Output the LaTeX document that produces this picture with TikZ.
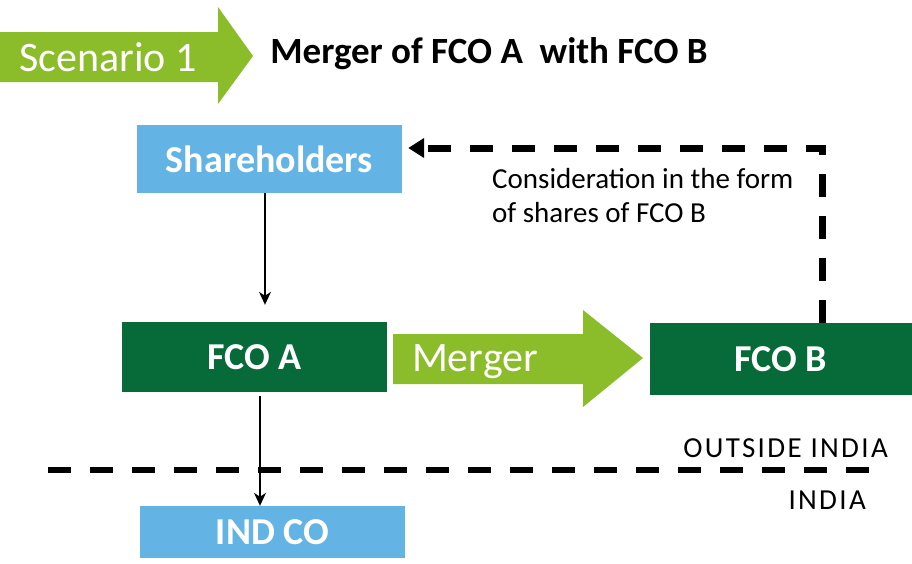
\documentclass[tikz,border=0pt]{standalone}
\usepackage{fontspec}
\setmainfont{Carlito}
\usetikzlibrary{arrows.meta}

\definecolor{leafgreen}{RGB}{139,188,41}
\definecolor{darkgreen}{RGB}{7,107,57}
\definecolor{skyblue}{RGB}{99,180,228}

\begin{document}
\begin{tikzpicture}[x=1pt, y=-1pt,
    entity/.style={fill=#1, text=white, font=\bfseries\fontsize{38}{44}\selectfont,
      minimum width=265pt, minimum height=70pt, inner sep=0pt},
    flow/.style={line width=1.5pt, -{Stealth[length=13pt, width=12pt, inset=4pt]}},
    border/.style={line width=#1, dash pattern=on 23pt off 19pt},
    region/.style={anchor=east, inner sep=0pt,
      font=\fontsize{29}{34}\selectfont\addfontfeature{LetterSpace=8}},
  ]
  \useasboundingbox (0,0) rectangle (912,563);

  % Scenario banner
  \fill[leafgreen] (0,32) -- (218,32) -- (218,7) -- (253,56) -- (218,104)
    -- (218,82) -- (0,82) -- cycle;
  \node[text=white, font=\fontsize{42}{50}\selectfont] (scenario) at (108,57) {Scenario 1};
  \node[font=\bfseries\fontsize{37}{44}\selectfont] (title) at (489,54)
    {Merger of FCO A\ \ with FCO B};

  % Companies
  \node[entity=skyblue, minimum height=68pt] (share) at (269.5,159) {Shareholders};
  \node[entity=darkgreen] (fcoa) at (254.5,357) {FCO A};
  \node[entity=darkgreen, minimum width=262pt, minimum height=72pt] (fcob) at (781,359) {FCO B};
  \node[entity=skyblue, minimum height=52pt] (indco) at (272.5,532) {IND CO};

  % Merger arrow
  \fill[leafgreen] (393,334) -- (583,334) -- (583,310) -- (643,358) -- (583,407)
    -- (583,384) -- (393,384) -- cycle;
  \node[text=white, font=\fontsize{42}{50}\selectfont] (merger) at (475,362) {Merger};

  % Holdings
  \coordinate (upper) at (265,0);
  \coordinate (lower) at (260,0);
  \draw[flow, shorten >=17pt] (share.south -| upper) -- (fcoa.north -| upper);
  \draw[flow, shorten <=4pt] (fcoa.south -| lower) -- (indco.north -| lower);

  % Consideration back to shareholders
  \coordinate (turn) at (822,148);
  \draw[border=7pt, -{Triangle[length=16pt, width=19pt]}, shorten >=6pt]
    (fcob.north -| turn) -- (turn) -- (turn -| share.east);
  \node[anchor=north west, align=left, font=\fontsize{29}{34}\selectfont,
    inner sep=0pt] (consid) at (492,168)
    {Consideration in the form\\of shares of FCO B};

  % Border
  \draw[border=6pt] (48,470) -- (873,470);
  \node[region] (outside) at (888,448) {OUTSIDE INDIA};
  \node[region] (india) at (866,500) {INDIA};
\end{tikzpicture}
\end{document}
